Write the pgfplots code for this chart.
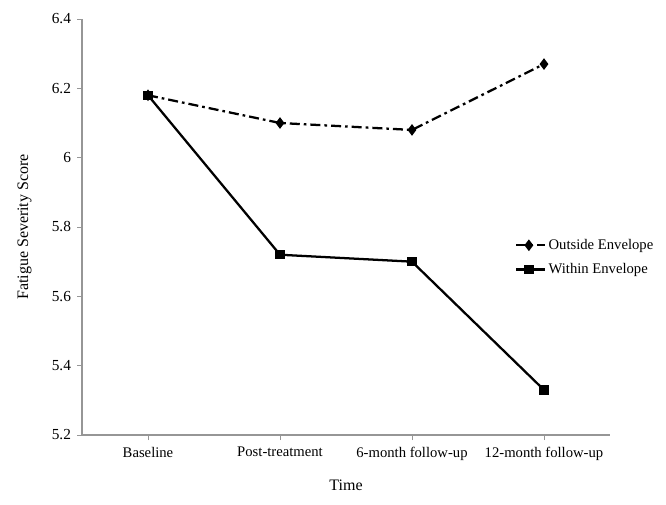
\documentclass[border=0pt]{standalone}
\usepackage{fontspec}
\setmainfont{Liberation Serif}
\usepackage{pgfplots}
\pgfplotsset{compat=1.18}
\definecolor{axgray}{RGB}{150,150,150}
\begin{document}
\begin{tikzpicture}
\begin{axis}[
  scale only axis,
  width=396pt, height=312pt,
  xmin=-0.5, xmax=3.5,
  ymin=5.2, ymax=6.4,
  ytick={5.2,5.4,5.6,5.8,6,6.2,6.4},
  xtick={0,1,2,3},
  xticklabels={Baseline,Post-treatment,6-month follow-up,12-month follow-up},
  axis x line*=bottom,
  axis y line*=left,
  axis line style={axgray, line width=0.8pt, -},
  tick style={axgray, line width=0.6pt},
  tick align=outside,
  major tick length=3.75pt,
  yticklabel style={font=\fontsize{11.5pt}{13pt}\selectfont, xshift=-1pt},
  xticklabel style={font=\fontsize{11pt}{13pt}\selectfont, yshift=-2pt},
  /pgf/number format/assume math mode=true,
  yticklabel={\pgfmathprintnumber[fixed,precision=1]{\tick}},
  xlabel={Time},
  ylabel={Fatigue Severity Score},
  label style={font=\fontsize{12pt}{14pt}\selectfont},
  xlabel style={at={(axis description cs:0.5,0)}, anchor=center, yshift=-37.5pt},
  ylabel style={at={(axis description cs:-0.1086,0.5)}, anchor=center},
  legend style={draw=none, fill=none, at={(rel axis cs:0.82,0.427)}, anchor=west,
    font=\fontsize{11pt}{13pt}\selectfont, row sep=5pt, inner sep=0pt},
  legend cell align=left,
  legend image code/.code={
    \draw[#1] (0cm,0cm) -- (0.75cm,0cm);
    \path[#1, solid] plot coordinates {(0.33cm,0cm)};
  },
  clip=false,
]
\addplot[black, line width=1.7pt, dash pattern=on 7.5pt off 3pt on 2pt off 3pt,
  mark=diamond*, mark size=3pt, mark options={solid, fill=black}]
  coordinates {(0,6.18) (1,6.10) (2,6.08) (3,6.27)};
\addlegendentry{Outside Envelope}
\addplot[black, line width=1.7pt,
  mark=square*, mark size=2.7pt, mark options={solid, fill=black}]
  coordinates {(0,6.18) (1,5.72) (2,5.70) (3,5.33)};
\addlegendentry{Within Envelope}
\coordinate (sw) at (rel axis cs:0,0);
\coordinate (ne) at (rel axis cs:1,1);
\end{axis}
\pgfresetboundingbox
\path[use as bounding box] ([shift={(-61.5pt,-51.75pt)}]sw) rectangle ([shift={(42pt,14.25pt)}]ne);
\end{tikzpicture}
\end{document}
